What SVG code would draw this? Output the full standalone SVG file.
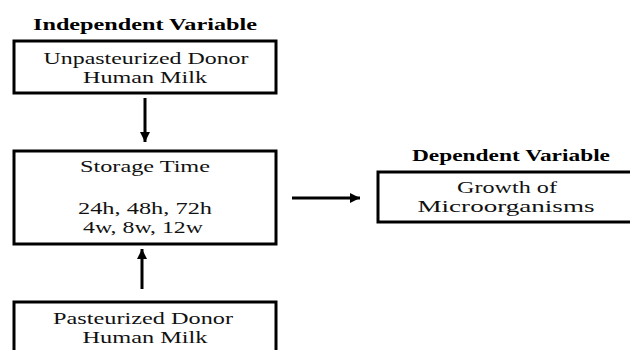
<svg xmlns="http://www.w3.org/2000/svg" width="630" height="350" viewBox="0 0 630 350">
<defs>
<style>
.box{fill:#fff;stroke:#000;stroke-width:3}
.t{font-family:"Liberation Serif","Times New Roman",serif;font-size:17.5px;fill:#111;text-anchor:middle}
.h{font-family:"Liberation Serif","Times New Roman",serif;font-size:16px;font-weight:bold;fill:#000;text-anchor:middle}
.c{stroke:#000;stroke-width:3;fill:none}
</style>
<marker id="ah" viewBox="0 0 10 10" refX="10" refY="5" markerWidth="10" markerHeight="10" markerUnits="userSpaceOnUse" orient="auto">
<path d="M0,0 L10,5 L0,10 z" fill="#000"/>
</marker>
</defs>
<text class="h" x="145" y="30" textLength="224" lengthAdjust="spacingAndGlyphs">Independent Variable</text>
<g id="unpasteurized">
<rect class="box" x="14" y="41" width="262" height="52"/>
<text class="t" x="146" y="64" textLength="205" lengthAdjust="spacingAndGlyphs">Unpasteurized Donor</text>
<text class="t" x="145" y="83" textLength="124" lengthAdjust="spacingAndGlyphs">Human Milk</text>
</g>
<g id="storage">
<rect class="box" x="14" y="151" width="262" height="93"/>
<text class="t" x="145" y="172" textLength="130" lengthAdjust="spacingAndGlyphs">Storage Time</text>
<text class="t" x="145" y="214" textLength="134" lengthAdjust="spacingAndGlyphs">24h, 48h, 72h</text>
<text class="t" x="143" y="233" textLength="120" lengthAdjust="spacingAndGlyphs">4w, 8w, 12w</text>
</g>
<g id="pasteurized">
<rect class="box" x="14" y="302" width="262" height="60"/>
<text class="t" x="143" y="324" textLength="180" lengthAdjust="spacingAndGlyphs">Pasteurized Donor</text>
<text class="t" x="145" y="343" textLength="125" lengthAdjust="spacingAndGlyphs">Human Milk</text>
</g>
<text class="h" x="511" y="161" textLength="198" lengthAdjust="spacingAndGlyphs">Dependent Variable</text>
<g id="growth">
<rect class="box" x="378" y="172" width="260" height="50"/>
<text class="t" x="507" y="193" textLength="100" lengthAdjust="spacingAndGlyphs">Growth of</text>
<text class="t" x="506" y="212" textLength="177" lengthAdjust="spacingAndGlyphs">Microorganisms</text>
</g>
<g id="connectors">
<line class="c" x1="145" y1="98" x2="145" y2="142" marker-end="url(#ah)"/>
<line class="c" x1="142" y1="289" x2="142" y2="249" marker-end="url(#ah)"/>
<line class="c" x1="292" y1="198" x2="360" y2="198" stroke-width="2" marker-end="url(#ah)"/>
</g>
</svg>
